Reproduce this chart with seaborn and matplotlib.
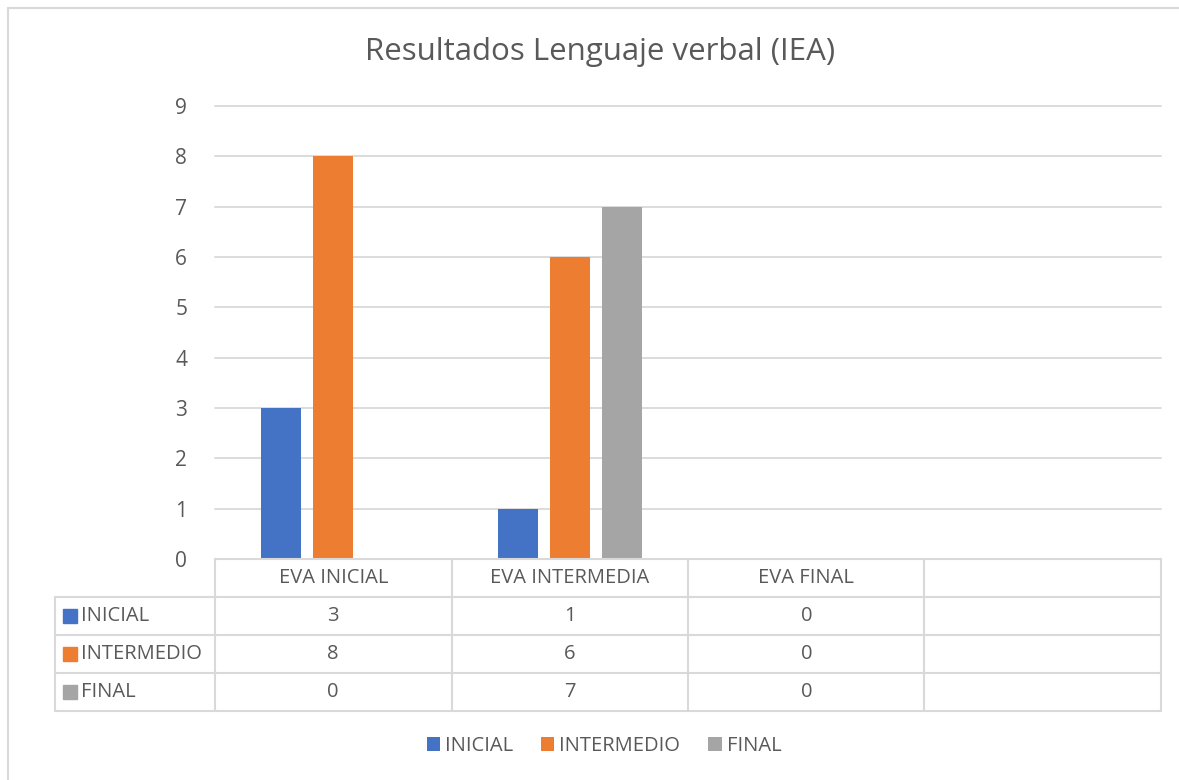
import matplotlib
matplotlib.use("Agg")
import matplotlib.pyplot as plt
import seaborn as sns
import pandas as pd
from matplotlib.patches import Rectangle
from matplotlib.lines import Line2D

# ---- data ----
categories = ["EVA INICIAL", "EVA INTERMEDIA", "EVA FINAL"]
slots = categories + [""]
series = ["INICIAL", "INTERMEDIO", "FINAL"]
inicial = [3, 1, 0]
intermedio = [8, 6, 0]
final = [0, 7, 0]
colors = ["#4472C4", "#ED7D31", "#A5A5A5"]
yticks = list(range(0, 10))
title = "Resultados Lenguaje verbal (IEA)"

sns.set_theme(style="white")
plt.rcParams['font.family'] = ['Open Sans', 'DejaVu Sans']
TXT = "#595959"
GRID = "#D9D9D9"
FS = 14.5

W, H = 1179, 780
fig = plt.figure(figsize=(W / 100, H / 100), dpi=100)
fig.patch.set_facecolor("white")


def fx(px):
    return px / W


def fy(py):
    return 1 - py / H


# outer chart border (left and top visible)
fig.add_artist(Line2D([fx(8), fx(8)], [fy(8), 0], transform=fig.transFigure, color=GRID, lw=1.5))
fig.add_artist(Line2D([fx(8), 1], [fy(8), fy(8)], transform=fig.transFigure, color=GRID, lw=1.5))

# ---- main bar axes ----
ax = fig.add_axes([fx(215), fy(559), fx(1161) - fx(215), fy(106) - fy(559)])
df = pd.DataFrame({
    "cat": categories * 3,
    "serie": sum([[s] * len(categories) for s in series], []),
    "val": inicial + intermedio + final,
})
sns.barplot(data=df, x="cat", y="val", hue="serie", order=slots, hue_order=series,
            palette=colors, width=0.66, gap=0.23, saturation=1, ax=ax,
            legend=True, errorbar=None, linewidth=0, edgecolor="none")
ax.set_xlim(-0.5, len(slots) - 0.5)
ax.set_ylim(0, max(yticks))
ax.set_yticks(yticks)
ax.set_yticklabels([str(t) for t in yticks])
ax.set_axisbelow(True)
ax.yaxis.grid(True, color=GRID, lw=1.3)
for gl in ax.get_ygridlines():
    gl.set_clip_on(False)
for sp in ax.spines.values():
    sp.set_visible(False)
ax.tick_params(axis="y", length=0, pad=20, labelsize=15, labelcolor=TXT)
ax.tick_params(axis="x", length=0, labelbottom=False)
ax.set_xlabel("")
ax.set_ylabel("")
handles, labels = ax.get_legend_handles_labels()
ax.get_legend().remove()

# ---- title ----
fig.text(fx(600), fy(52), title, ha="center", va="center", fontsize=22.5, color=TXT)

# ---- data table ----
left_w = 160 / 236.5
tax = fig.add_axes([fx(55), fy(711), fx(1161) - fx(55), fy(559) - fy(711)])
x0 = -0.5 - left_w
tax.set_xlim(x0, len(slots) - 0.5)
nrows = len(series) + 1
tax.set_ylim(0, nrows)
tax.axis("off")
lw = 1.5
# vertical lines
for i in range(len(slots) + 1):
    tax.plot([i - 0.5, i - 0.5], [0, nrows], color=GRID, lw=lw, clip_on=False)
tax.plot([x0, x0], [0, nrows - 1], color=GRID, lw=lw, clip_on=False)
# horizontal lines
for r in range(nrows):
    tax.plot([x0, len(slots) - 0.5], [r, r], color=GRID, lw=lw, clip_on=False)
tax.plot([-0.5, len(slots) - 0.5], [nrows, nrows], color=GRID, lw=lw, clip_on=False)
# header
for i, c in enumerate(slots):
    tax.text(i, nrows - 0.5, c, ha="center", va="center", fontsize=FS, color=TXT)
# rows
sq_w = 14 / 236.5
for r, (s, vals, col) in enumerate(zip(series, [inicial, intermedio, final], colors)):
    yc = nrows - 1.5 - r
    tax.add_patch(Rectangle((x0 + 8 / 236.5, yc - 0.18), sq_w, 0.36, color=col, clip_on=False))
    tax.text(x0 + 26 / 236.5, yc, s, ha="left", va="center", fontsize=FS, color=TXT)
    for i, v in enumerate(vals):
        tax.text(i, yc, str(v), ha="center", va="center", fontsize=FS, color=TXT)

# ---- legend ----
leg = fig.legend(handles, labels, loc="center", bbox_to_anchor=(fx(604), fy(746)), ncol=3,
                 frameon=False, handlelength=0.65, handleheight=0.65, handletextpad=0.25,
                 columnspacing=1.4, fontsize=FS)
for t in leg.get_texts():
    t.set_color(TXT)

fig.savefig("out.png", dpi=100, facecolor="white")
